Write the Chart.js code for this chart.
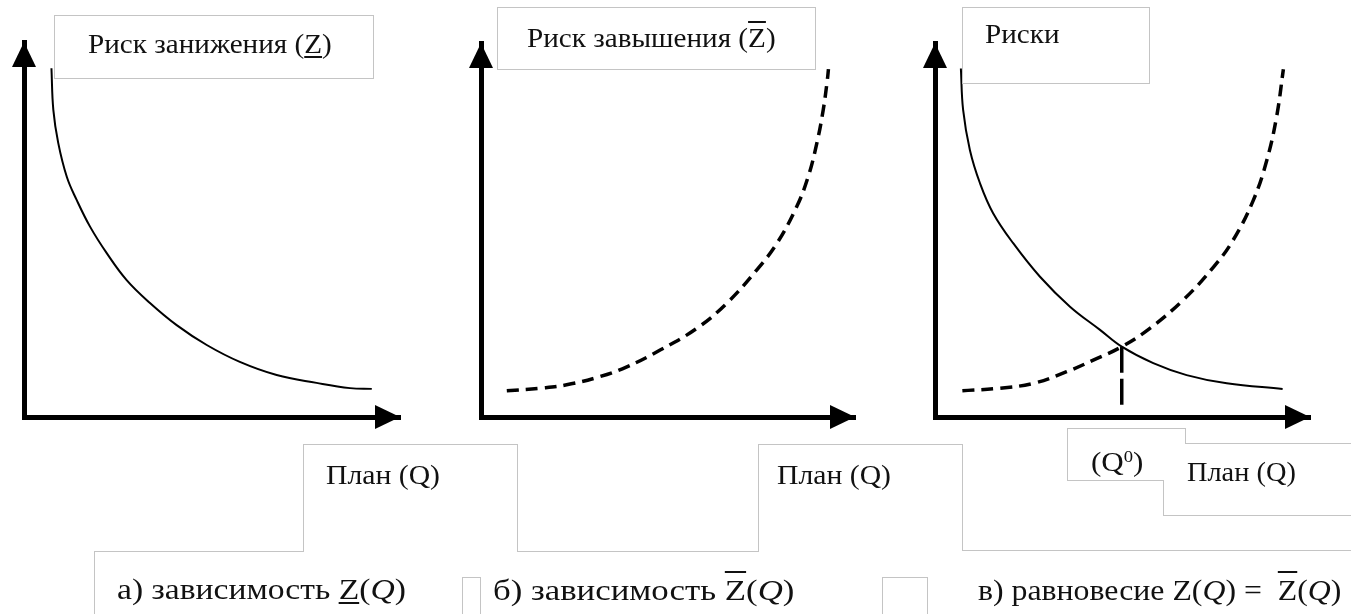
<!DOCTYPE html>
<html>
<head>
<meta charset="utf-8">
<script src="https://cdn.jsdelivr.net/npm/chart.js@4.4.0/dist/chart.umd.min.js"></script>
<style>
  body { margin: 0; background: #fff; width: 1351px; height: 614px; overflow: hidden; position: relative;
         font-family: "Liberation Serif", "Times New Roman", serif; color: #111; }
  canvas { position: absolute; top: 0; }
  svg { position: absolute; left: 0; top: 0; }
  .lbl { position: absolute; white-space: nowrap; line-height: 1; transform-origin: 0 50%; }
  .u { text-decoration: underline; text-decoration-thickness: 2px; text-underline-offset: 3px; }
  .o { text-decoration: overline; text-decoration-thickness: 2px; }
  sup { font-size: 60%; vertical-align: 0.55em; line-height: 0; }
</style>
</head>
<body>
<canvas id="chartA" width="440" height="440" style="left:0"></canvas>
<canvas id="chartB" width="440" height="440" style="left:440px"></canvas>
<canvas id="chartC" width="451" height="440" style="left:900px"></canvas>

<svg width="1351" height="614" fill="none" stroke="#c4c4c4" stroke-width="1" shape-rendering="crispEdges">
  <rect x="54.5" y="15.5" width="319" height="63"/>
  <rect x="497.5" y="7.5" width="318" height="62"/>
  <rect x="962.5" y="7.5" width="187" height="76"/>
  <polyline points="94.5,614 94.5,551.5 303.5,551.5 303.5,444.5 517.5,444.5 517.5,551.5 758.5,551.5 758.5,444.5 962.5,444.5 962.5,550.5 1351,550.5"/>
  <polyline points="1163.5,480.5 1067.5,480.5 1067.5,428.5 1185.5,428.5 1185.5,443.5 1351,443.5"/>
  <polyline points="1163.5,480.5 1163.5,515.5 1351,515.5"/>
  <polyline points="462.5,614 462.5,577.5 480.5,577.5 480.5,614"/>
  <polyline points="882.5,614 882.5,577.5 927.5,577.5 927.5,614"/>
</svg>

<div class="lbl" style="left:88px;top:31px;font-size:27px;transform:scaleX(1.08)">Риск занижения (<span class="u">Z</span>)</div>
<div class="lbl" style="left:527px;top:25px;font-size:27px;transform:scaleX(1.08)">Риск завышения (<span class="o">Z</span>)</div>
<div class="lbl" style="left:985px;top:21px;font-size:27px;transform:scaleX(1.08)">Риски</div>

<div class="lbl" style="left:326px;top:462px;font-size:27px;transform:scaleX(1.1)">План (Q)</div>
<div class="lbl" style="left:777px;top:462px;font-size:27px;transform:scaleX(1.1)">План (Q)</div>
<div class="lbl" style="left:1091px;top:449px;font-size:27px;transform:scaleX(1.15)">(Q<sup>0</sup>)</div>
<div class="lbl" style="left:1187px;top:459px;font-size:27px;transform:scaleX(1.05)">План (Q)</div>

<div class="lbl" style="left:117px;top:574px;font-size:30px;transform:scaleX(1.12)">а) зависимость <span class="u">Z</span>(<i>Q</i>)</div>
<div class="lbl" style="left:493px;top:575px;font-size:30px;transform:scaleX(1.16)">б) зависимость <span class="o">Z</span>(<i>Q</i>)</div>
<div class="lbl" style="left:978px;top:575px;font-size:30px;transform:scaleX(1.06)">в) равновесие Z(<i>Q</i>) = &nbsp;<span class="o">Z</span>(<i>Q</i>)</div>

<script>
  // шкалы: 0..100 по обеим осям
  const axisMin = 0;
  const axisMax = 100;

  // а) риск занижения
  const underQ    = [7.3, 7.8, 9.1, 11.4, 14.0, 17.6, 22.0, 27.3, 33.5, 40.6, 48.6, 57.4, 67.2, 77.8, 86.7, 92.5];
  const underRisk = [93.0, 81.9, 73.1, 64.0, 57.9, 50.7, 43.7, 36.5, 30.4, 24.5, 19.2, 14.7, 11.2, 9.1, 7.7, 7.5];

  // б) риск завышения
  const overQ    = [6.9, 15.8, 22.9, 31.8, 39.0, 47.9, 57.7, 65.7, 73.7, 79.1, 84.4, 87.5, 89.8, 91.5, 92.6, 92.9];
  const overRisk = [7.0, 7.7, 8.6, 10.8, 13.4, 17.9, 23.7, 30.4, 39.3, 46.4, 56.2, 64.3, 73.2, 82.1, 90.1, 93.0];

  // в) равновесие
  const eqUnderQ    = [6.9, 7.5, 9.3, 12.0, 15.5, 20.9, 28.0, 36.0, 44.0, 49.8, 58.2, 67.1, 77.8, 92.7];
  const eqUnderRisk = [93.2, 82.1, 71.4, 62.5, 54.5, 46.4, 37.5, 29.5, 23.3, 18.8, 14.4, 11.2, 9.0, 7.5];
  const eqOverQ     = [7.3, 17.3, 26.2, 35.1, 42.2, 49.8, 57.3, 66.2, 74.2, 79.5, 84.9, 88.5, 91.1, 92.9];
  const eqOverRisk  = [7.0, 7.7, 9.0, 12.1, 15.2, 18.8, 23.7, 31.3, 40.0, 47.3, 58.0, 68.7, 80.3, 93.0];

  // точка равновесия Q0
  const q0 = 49.8;
  const q0Risk = 18.8;
  const q0Floor = 2.7;

  const toPoints = (xs, ys) => xs.map((x, i) => ({ x: x, y: ys[i] }));

  const solidStyle = { borderColor: '#000', borderWidth: 2, pointRadius: 0, fill: false, tension: 0.4 };
  const dashStyle  = { borderColor: '#000', borderWidth: 3.5, borderDash: [12, 7], pointRadius: 0, fill: false,
                       tension: 0.4 };

  // стрелки на концах осей
  const arrowHeads = {
    id: 'arrowHeads',
    afterDraw(chart) {
      const ctx = chart.ctx;
      const a = chart.chartArea;
      ctx.save();
      ctx.fillStyle = '#000';
      ctx.beginPath();
      ctx.moveTo(a.left, a.top);
      ctx.lineTo(a.left - 12, a.top + 25);
      ctx.lineTo(a.left + 12, a.top + 25);
      ctx.closePath();
      ctx.fill();
      ctx.beginPath();
      ctx.moveTo(a.right, a.bottom);
      ctx.lineTo(a.right - 25, a.bottom - 12);
      ctx.lineTo(a.right - 25, a.bottom + 12);
      ctx.closePath();
      ctx.fill();
      ctx.restore();
    }
  };

  function makeAxes() {
    const axis = {
      type: 'linear', min: axisMin, max: axisMax,
      ticks: { display: false },
      grid: { display: false, drawTicks: false },
      border: { display: true, color: '#000', width: 5 }
    };
    return { x: Object.assign({}, axis), y: Object.assign({}, axis) };
  }

  function makeChart(id, datasets, padding) {
    return new Chart(document.getElementById(id).getContext('2d'), {
      type: 'line',
      data: { datasets: datasets },
      options: {
        responsive: false,
        animation: false,
        layout: { padding: padding },
        scales: makeAxes(),
        plugins: { legend: { display: false }, tooltip: { enabled: false } }
      },
      plugins: [arrowHeads]
    });
  }

  makeChart('chartA', [
    Object.assign({ label: 'Риск занижения', data: toPoints(underQ, underRisk) }, solidStyle)
  ], { left: 24, top: 42, right: 40, bottom: 23 });

  makeChart('chartB', [
    Object.assign({ label: 'Риск завышения', data: toPoints(overQ, overRisk) }, dashStyle)
  ], { left: 41, top: 43, right: 25, bottom: 23 });

  makeChart('chartC', [
    Object.assign({ label: 'Риск занижения', data: toPoints(eqUnderQ, eqUnderRisk) }, solidStyle),
    Object.assign({ label: 'Риск завышения', data: toPoints(eqOverQ, eqOverRisk) }, dashStyle),
    { label: 'Q0', data: [{ x: q0, y: q0Risk }, { x: q0, y: q0Floor }],
      borderColor: '#000', borderWidth: 3.5, borderDash: [26, 6], pointRadius: 0, tension: 0 }
  ], { left: 35, top: 43, right: 41, bottom: 23 });
</script>
</body>
</html>
